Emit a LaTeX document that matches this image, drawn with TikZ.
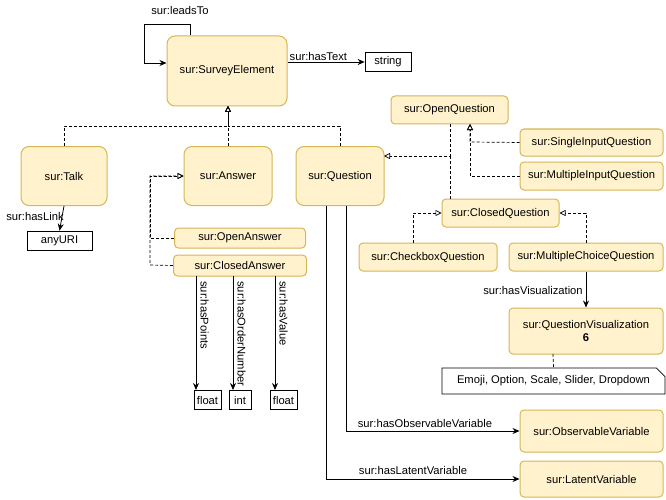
\documentclass[tikz,border=0pt]{standalone}
\usepackage{fontspec}
\setmainfont{Liberation Sans}
\usetikzlibrary{arrows.meta,shapes.misc}
\definecolor{cfill}{HTML}{FFF2CC}
\definecolor{cdraw}{HTML}{D6B656}
\begin{document}
\begin{tikzpicture}[x=1pt,y=-1pt,font=\fontsize{11.2}{13}\selectfont,
  cls/.style={draw=cdraw,fill=cfill,line width=1pt,rounded corners=4pt,minimum width=#1,inner sep=1pt},
  big/.style={draw=cdraw,fill=cfill,line width=1pt,rounded corners=8pt,minimum width=#1,minimum height=59pt},
  dt/.style={draw,line width=0.7pt,minimum height=19pt,inner sep=2pt},
  sub/.style={densely dashed,line width=0.7pt,-{Triangle[open,length=6pt,width=6pt]}},
  rel/.style={line width=0.8pt,-{Stealth[length=7pt,width=6pt]}},
  lab/.style={inner sep=1pt}]
\useasboundingbox (0,0) rectangle (666,500);
\node[big=120pt,minimum height=70pt] (se) at (227,71) {sur:SurveyElement};
\node[dt,minimum width=46pt] (str) at (388,62) {string};
\node[big=86pt] (talk) at (64,176) {sur:Talk};
\node[big=88pt] (ans) at (228,176) {sur:Answer};
\node[big=88pt] (q) at (340,176) {sur:Question};
\node[dt,minimum width=65pt] (uri) at (59.5,240.5) {anyURI};
\node[cls=131pt,minimum height=20pt] (oa) at (240,238) {sur:OpenAnswer};
\node[cls=133pt,minimum height=21pt] (ca) at (240,265.5) {sur:ClosedAnswer};
\node[dt,minimum width=27pt] (f1) at (207.5,400) {float};
\node[dt,minimum width=22pt] (i1) at (240,400) {int};
\node[dt,minimum width=27pt] (f2) at (283.5,400) {float};
\node[cls=117pt,minimum height=28pt] (oq) at (449.5,110) {sur:OpenQuestion};
\node[cls=143pt,minimum height=27pt] (siq) at (591.5,142.5) {sur:SingleInputQuestion};
\node[cls=143pt,minimum height=28pt] (miq) at (591.5,176) {sur:MultipleInputQuestion};
\node[cls=117pt,minimum height=28pt] (cq) at (500.5,213) {sur:ClosedQuestion};
\node[cls=138pt,minimum height=28pt] (cbq) at (428,257) {sur:CheckboxQuestion};
\node[cls=154pt,minimum height=28pt] (mcq) at (586,257) {sur:MultipleChoiceQuestion};
\node[cls=154pt,minimum height=46pt,align=center] (qv) at (586,331) {sur:QuestionVisualization\\[0pt]\textbf{6}};
\node[draw,line width=0.7pt,minimum width=223pt,minimum height=26pt,chamfered rectangle,chamfered rectangle corners=north east,chamfered rectangle xsep=5pt] (note) at (553.5,381) {Emoji, Option, Scale, Slider, Dropdown};
\node[cls=143pt,minimum height=42pt] (ov) at (591.5,431) {sur:ObservableVariable};
\node[cls=143pt,minimum height=36pt] (lv) at (591.5,479) {sur:LatentVariable};
% leadsTo loop
\coordinate (l1) at (144,63);
\draw[rel] (190,36|-se.north) -- (190,24) -- (144,24) -- (l1) -- (l1-|se.west);
\node[lab] (lt) at (180,10) {sur:leadsTo};
\draw[rel] (se.east|-str) -- node[above,lab,pos=0.4] {sur:hasText} (str.west);
% inheritance from SurveyElement
\draw[sub] (talk.north) -- (64,126) -- (228,126) -- (228,106);
\draw[sub] (ans.north) -- (228,106);
\draw[sub] (q.north) -- (340,126) -- (228,126) -- (228,106);
\draw[rel] (talk.south) -- (uri.north);
\node[lab] at (35,216) {sur:hasLink};
% answers
\draw[sub] (oa.west) -- (150,238) -- (150,176) -- (ans.west);
\draw[sub] (ca.west) -- (150,265) -- (150,176) -- (ans.west);
\draw[rel] (196,276) -- (196,390);
\node[lab,rotate=-90,anchor=north west] at (210,280) {sur:hasPoints};
\draw[rel] (233,276) -- (233,390);
\node[lab,rotate=-90,anchor=north west] at (247,280) {sur:hasOrderNumber};
\draw[rel] (275,276) -- (275,390);
\node[lab,rotate=-90,anchor=north west] at (289,280) {sur:hasValue};
% questions
\draw[sub] (450,124) -- (450,156) -- (384,156);
\draw[densely dashed,line width=0.7pt] (450,199) -- (450,156);
\draw[sub] (siq.west) -- (470,142) -- (470,124);
\draw[sub] (miq.west) -- (470,176) -- (470,124);
\draw[sub] (413,243) -- (413,213) -- (cq.west);
\draw[sub] (586,243) -- (586,213) -- (cq.east);
\draw[rel] (mcq.south) -- (qv.north);
\node[lab] at (533,290) {sur:hasVisualization};
\draw[densely dashed,line width=0.7pt] (553,354) -- (note.north);
\draw[rel] (346,206) -- (346,431) -- (ov.west);
\node[lab] at (425,423) {sur:hasObservableVariable};
\draw[rel] (326,206) -- (326,479) -- (lv.west);
\node[lab] at (413,470) {sur:hasLatentVariable};
\end{tikzpicture}
\end{document}
